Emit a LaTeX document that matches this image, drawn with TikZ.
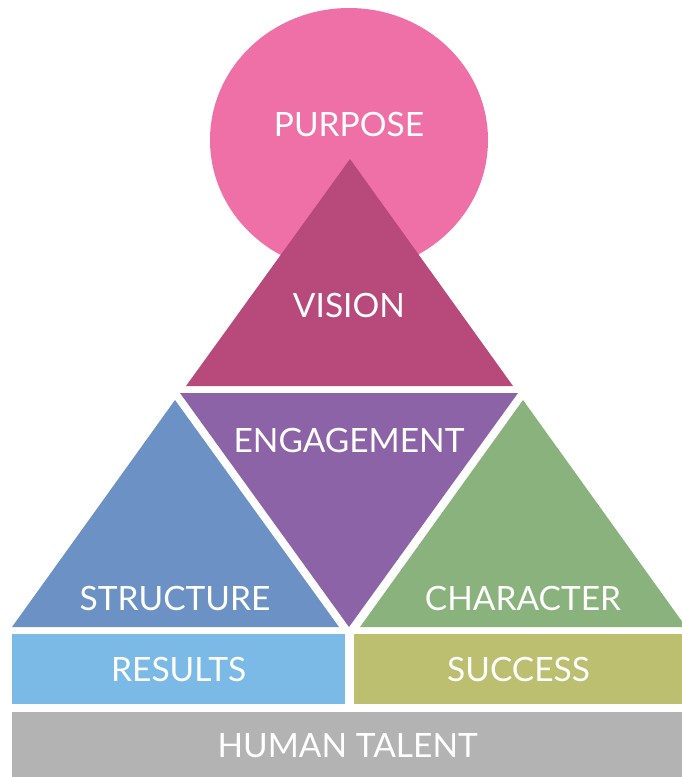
\documentclass[tikz,border=0pt]{standalone}
\usepackage{fontspec}
\setmainfont{Lato}
\usetikzlibrary{positioning}

\definecolor{purposepink}{HTML}{EE70A6}
\definecolor{visionrose}{HTML}{B84A7B}
\definecolor{engagepurple}{HTML}{8C63A6}
\definecolor{structblue}{HTML}{6C91C4}
\definecolor{chargreen}{HTML}{89B27D}
\definecolor{resultsblue}{HTML}{7BBAE6}
\definecolor{successolive}{HTML}{BCBF6F}
\definecolor{talentgrey}{HTML}{B3B3B3}

\tikzset{
  word/.style={text=white, inner sep=0pt, font=\fontsize{33.5}{33.5}\selectfont},
  band/.style={word, rectangle, minimum height=70pt}
}

\begin{document}
\begin{tikzpicture}[x=1pt, y=-1pt]
\useasboundingbox (0,0) rectangle (681,777);

% top
\fill[purposepink] (349,140) ellipse [x radius=139, y radius=132];
\fill[visionrose] (350,159) -- (513,386) -- (186,386) -- cycle;
\node (purpose) [word] at (349,125) {PURPOSE};
\node (vision) [word] at (349,305) {VISION};

% middle row
\fill[engagepurple] (180,393) -- (518,393) -- (349,627) -- cycle;
\fill[structblue] (175,400) -- (339,627) -- (12,627) -- cycle;
\fill[chargreen] (523,400) -- (686,627) -- (360,627) -- cycle;
\node (engage) [word] at (349,440) {ENGAGEMENT};
\node (struct) [word] at (175,598) {STRUCTURE};
\node (charac) [word] at (523,598) {CHARACTER};

% bottom bands
\node (results) [band, fill=resultsblue, minimum width=333pt, anchor=north west]
  at (12,634) {RESULTS};
\node (success) [band, fill=successolive, minimum width=330pt,
  right=8pt of results] {SUCCESS};
\node (talent) [band, fill=talentgrey, minimum width=671pt, minimum height=68pt,
  below=7pt of results.south west, anchor=north west] {HUMAN TALENT};
\end{tikzpicture}
\end{document}
